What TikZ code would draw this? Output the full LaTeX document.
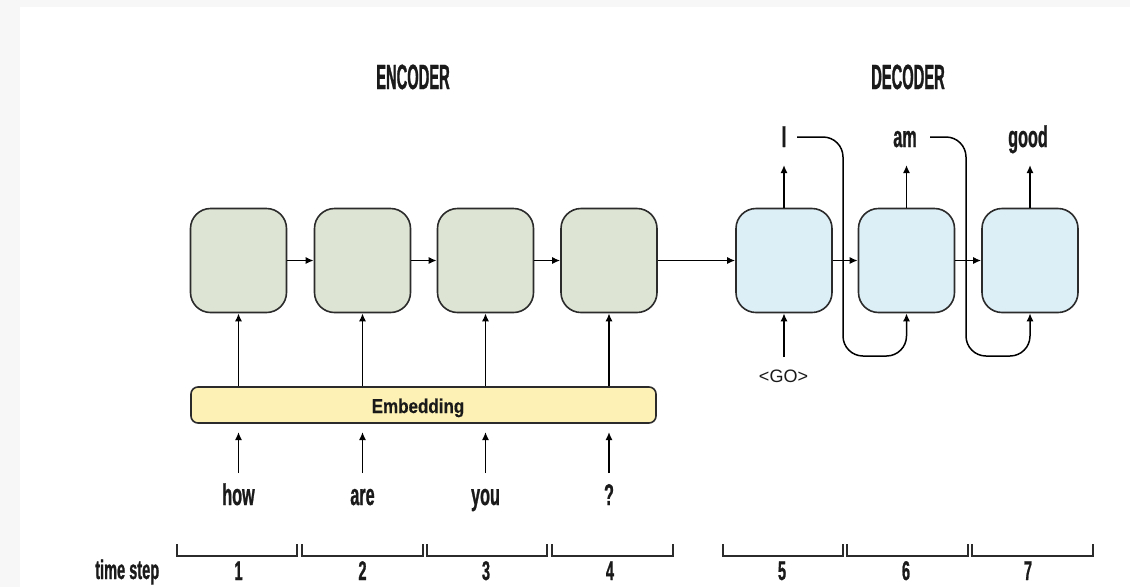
\documentclass[tikz,border=0pt]{standalone}
\usepackage{fontspec}
\setmainfont{Liberation Sans}
\newfontfamily\condfont[FakeStretch=0.54,FakeBold=0.8]{Liberation Sans}
\newfontfamily\capfont[FakeStretch=0.42,FakeBold=0.8]{Liberation Sans}
\newfontfamily\embfont[FakeStretch=0.85,FakeBold=0.4]{Liberation Sans}
\usetikzlibrary{arrows.meta}
\definecolor{bggray}{HTML}{F7F7F7}
\definecolor{encfill}{HTML}{DDE4D3}
\definecolor{decfill}{HTML}{DCEEF6}
\definecolor{embfill}{HTML}{FDF1B5}
\definecolor{edge}{HTML}{2B2B2B}
\definecolor{ink}{HTML}{1A1A1A}
\tikzset{
  cell/.style={draw=edge, line width=1.6pt, rounded corners=20pt, minimum width=96pt, minimum height=104pt, inner sep=0},
  enccell/.style={cell, fill=encfill},
  deccell/.style={cell, fill=decfill},
  arr/.style={draw=black, line width=1.5pt, -{Latex[length=8pt,width=7pt]}},
  feed/.style={arr, rounded corners=20pt},
  brk/.style={draw=edge, line width=1.5pt},
  word/.style={font=\condfont\bfseries\fontsize{30}{30}\selectfont, text=ink, inner sep=0, anchor=base},
  stepnum/.style={font=\condfont\bfseries\fontsize{27}{27}\selectfont, text=ink, inner sep=0, anchor=base},
  head/.style={font=\capfont\bfseries\fontsize{35}{35}\selectfont, text=ink, inner sep=0, anchor=base},
}
\begin{document}
\begin{tikzpicture}[x=1pt,y=-1pt]
\fill[bggray] (0,0) rectangle (1130,587);
\fill[white] (20,7) rectangle (1130,587);
\useasboundingbox (0,0) rectangle (1130,587);

% headings
\node[head] (enchead) at (413,89) {ENCODER};
\node[head] (dechead) at (908,89) {DECODER};

% encoder cells
\node[enccell] (e1) at (238.5,260.5) {};
\node[enccell] (e2) at (362.5,260.5) {};
\node[enccell] (e3) at (485.5,260.5) {};
\node[enccell] (e4) at (609,260.5) {};
% decoder cells
\node[deccell] (d5) at (784,260.5) {};
\node[deccell] (d6) at (906.5,260.5) {};
\node[deccell] (d7) at (1030,260.5) {};

% horizontal arrows
\draw[arr] (e1) -- (e2);
\draw[arr] (e2) -- (e3);
\draw[arr] (e3) -- (e4);
\draw[arr] (e4) -- (d5);
\draw[arr] (d5) -- (d6);
\draw[arr] (d6) -- (d7);

% embedding
\node[draw=edge, line width=1.6pt, fill=embfill, rounded corners=7pt, minimum width=465pt, minimum height=36pt, inner sep=0] (emb) at (423.5,405) {};
\node[font=\embfont\bfseries\fontsize{20}{20}\selectfont, inner sep=0, anchor=base, text=ink] (embl) at (418,413) {Embedding};

\foreach \c in {e1,e2,e3,e4}{
  \draw[arr] (\c.south |- emb.north) -- (\c.south);
}

% input words
\node[word] (w1) at (238.5,505) {how};
\node[word] (w2) at (362.5,505) {are};
\node[word] (w3) at (485.5,505) {you};
\node[word] (w4) at (609,505) {?};
\foreach \x/\n in {238.5/1,362.5/2,485.5/3,609/4}{
  \coordinate (t\n) at (\x,473);
  \coordinate (h\n) at (\x,432);
  \draw[arr] (t\n) -- (h\n);
}

% decoder outputs
\node[word] (o5) at (784,147) {I};
\node[word] (o6) at (905,147) {am};
\node[word] (o7) at (1028,147) {good};
\coordinate (p5) at (784,165);
\coordinate (p6) at (906.5,165);
\coordinate (p7) at (1030,165);
\draw[arr] (d5.north) -- (p5);
\draw[arr] (d6.north) -- (p6);
\draw[arr] (d7.north) -- (p7);

% GO input
\node[font=\fontsize{18}{18}\selectfont, text=ink, inner sep=0] (go) at (783.5,376.5) {<GO>};
\coordinate (g5) at (784,357);
\draw[arr] (g5) -- (d5.south);

% feedback
\coordinate (f5) at (797,137);
\coordinate (f6) at (930,137);
\draw[feed] (f5) -- (843,137) -- (843,356) -- (906.5,356) -- (d6.south);
\draw[feed] (f6) -- (966,137) -- (966,356) -- (1030,356) -- (d7.south);

% time steps
\node[stepnum, anchor=base west] (ts) at (95,579) {time step};
\foreach \a/\b/\m/\n in {177/297/238.5/1, 302/423/362.5/2, 427/547/486/3, 552/673/610/4, 723/843/782/5, 847/968/906/6, 972/1093/1028/7}{
  \draw[brk] (\a,544) |- (\b,556) -- (\b,544);
  \node[stepnum] (n\n) at (\m,580) {\n};
}
\end{tikzpicture}
\end{document}
